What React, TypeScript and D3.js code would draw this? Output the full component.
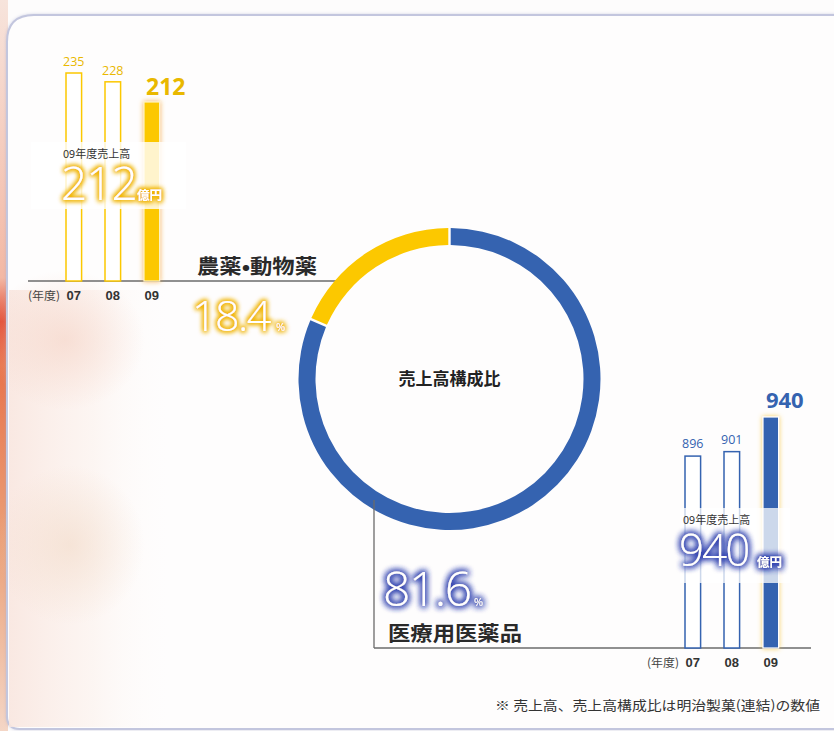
import React from "react";
import * as d3 from "d3";

const years = ["07", "08", "09"];
const agriValues = [235, 228, 212];
const pharmaValues = [896, 901, 940];
const shareLabels = ["医療用医薬品", "農薬•動物薬"];
const shareValues = [81.6, 18.4];
const footnote = "※ 売上高、売上高構成比は明治製菓(連結)の数値";

const BLUE = "#3563b0";
const YELLOW = "#fcc800";
const GOLD = "#e9b800";
const JP = "'Noto Sans CJK JP', 'Noto Sans', sans-serif";
const NUM = "'Open Sans', 'Noto Sans', sans-serif";
const BOLDNUM = "'Liberation Sans', Arial, sans-serif";

export default function App() {
  const W = 834, H = 731;

  // left chart scales
  const xL = d3.scaleBand<string>().domain(years).range([54.3, 171.3]).paddingInner(0.6).paddingOuter(0.3);
  const yL = d3.scaleLinear().domain([70, 235]).range([281, 73]);
  const baseL = yL(70);
  // right chart scales
  const xR = d3.scaleBand<string>().domain(years).range([673.3, 790.3]).paddingInner(0.6).paddingOuter(0.3);
  const yR = d3.scaleLinear().domain([680, 940]).range([648, 417]);
  const baseR = yR(680);

  const cx = 449.5, cy = 379, rOut = 151, rIn = 134;
  const pie = d3.pie<number>().sort(null).startAngle(0).endAngle(Math.PI * 2).padAngle(0.012);
  const arcs = pie(shareValues);
  const arc = d3.arc<d3.PieArcDatum<number>>().innerRadius(rIn).outerRadius(rOut);
  const donutColors = [BLUE, YELLOW];

  const fmt = (v: number) => v.toFixed(1);

  return (
    <svg width={W} height={H} style={{ position: "absolute", left: 0, top: 0, display: "block" }}>
      <defs>
        <filter id="glowY" x="-30%" y="-50%" width="160%" height="200%">
          <feMorphology in="SourceAlpha" operator="dilate" radius="1.2" result="d" />
          <feGaussianBlur in="d" stdDeviation="2.6" result="b" />
          <feFlood floodColor="#f0b400" result="c" />
          <feComposite in="c" in2="b" operator="in" result="g" />
          <feMerge>
            <feMergeNode in="g" />
            <feMergeNode in="g" />
            <feMergeNode in="SourceGraphic" />
          </feMerge>
        </filter>
        <filter id="glowB" x="-30%" y="-50%" width="160%" height="200%">
          <feMorphology in="SourceAlpha" operator="dilate" radius="1.4" result="d" />
          <feGaussianBlur in="d" stdDeviation="3" result="b" />
          <feFlood floodColor="#2e3fae" result="c" />
          <feComposite in="c" in2="b" operator="in" result="g" />
          <feMerge>
            <feMergeNode in="g" />
            <feMergeNode in="g" />
            <feMergeNode in="SourceGraphic" />
          </feMerge>
        </filter>
        <filter id="barGlowO" x="-100%" y="-10%" width="300%" height="120%">
          <feGaussianBlur in="SourceAlpha" stdDeviation="2.5" result="b" />
          <feFlood floodColor="#f39a1f" floodOpacity="0.8" result="c" />
          <feComposite in="c" in2="b" operator="in" result="g" />
          <feMerge>
            <feMergeNode in="g" />
            <feMergeNode in="SourceGraphic" />
          </feMerge>
        </filter>
        <filter id="barGlowY" x="-100%" y="-10%" width="300%" height="120%">
          <feGaussianBlur in="SourceAlpha" stdDeviation="2.5" result="b" />
          <feFlood floodColor="#f5c640" floodOpacity="0.9" result="c" />
          <feComposite in="c" in2="b" operator="in" result="g" />
          <feMerge>
            <feMergeNode in="g" />
            <feMergeNode in="SourceGraphic" />
          </feMerge>
        </filter>
        <linearGradient id="redStrip" x1="0" y1="0" x2="0" y2="1">
          <stop offset="0" stopColor="#f7e4dc" />
          <stop offset="0.38" stopColor="#f3b8a4" />
          <stop offset="0.44" stopColor="#e24a32" />
          <stop offset="0.5" stopColor="#e8744c" />
          <stop offset="0.75" stopColor="#eba27a" />
          <stop offset="1" stopColor="#f4d6c6" />
        </linearGradient>
        <linearGradient id="pinkFade" x1="0" y1="0" x2="1" y2="0">
          <stop offset="0" stopColor="#f9e6df" stopOpacity="0.9" />
          <stop offset="0.5" stopColor="#fbeee8" stopOpacity="0.5" />
          <stop offset="1" stopColor="#ffffff" stopOpacity="0" />
        </linearGradient>
        <radialGradient id="blob1">
          <stop offset="0" stopColor="#f5d2c4" stopOpacity="0.6" />
          <stop offset="1" stopColor="#f5d2c4" stopOpacity="0" />
        </radialGradient>
        <radialGradient id="blob2">
          <stop offset="0" stopColor="#f1d8c4" stopOpacity="0.55" />
          <stop offset="1" stopColor="#f1d8c4" stopOpacity="0" />
        </radialGradient>
        <filter id="frameShadow" x="-5%" y="-5%" width="110%" height="110%">
          <feGaussianBlur in="SourceAlpha" stdDeviation="1.5" result="b" />
          <feFlood floodColor="#9aa0c8" floodOpacity="0.45" result="c" />
          <feComposite in="c" in2="b" operator="in" result="g" />
          <feMerge>
            <feMergeNode in="g" />
            <feMergeNode in="SourceGraphic" />
          </feMerge>
        </filter>
      </defs>

      {/* background */}
      <rect x={0} y={0} width={W} height={H} fill="#fdfcfc" />
      <rect x={0} y={0} width={8} height={H} fill="url(#redStrip)" />
      <path d="M7,716 L7,42 Q7,15 34,15 L850,15 L850,729 L20,729 Q7,729 7,716 Z" fill="#fefdfd" stroke="#c3c6de" strokeWidth={2} filter="url(#frameShadow)" />
      <rect x={9} y={290} width={170} height={437} fill="url(#pinkFade)" />
      <ellipse cx={65} cy={340} rx={80} ry={70} fill="url(#blob1)" />
      <ellipse cx={70} cy={545} rx={75} ry={80} fill="url(#blob2)" />

      {/* ---- left bar chart (agri) ---- */}
      <line x1={28} x2={345} y1={baseL} y2={baseL} stroke="#6b6b6b" strokeWidth={1.3} />
      {agriValues.map((v, i) => {
        const x = xL(years[i])!;
        const w = xL.bandwidth();
        const last = i === years.length - 1;
        return (
          <g key={"al" + i}>
            <rect x={x} y={yL(v)} width={w} height={baseL - yL(v)}
              fill={last ? YELLOW : "#ffffff"} stroke={last ? "#fff3c0" : YELLOW} strokeWidth={last ? 1.2 : 1.5}
              filter={last ? "url(#barGlowO)" : undefined} />
            {last ? (
              <text x={x + w / 2 + 14} y={yL(v) - 7} textAnchor="middle" fontFamily={NUM} fontWeight="bold" fontSize={23} fill={GOLD}>{v}</text>
            ) : (
              <text x={x + w / 2} y={yL(v) - 7} textAnchor="middle" fontFamily={NUM} fontSize={12.5} fill={GOLD}>{v}</text>
            )}
            <text x={x + w / 2} y={300} textAnchor="middle" fontFamily={BOLDNUM} fontWeight="bold" fontSize={13} fill="#333">{years[i]}</text>
          </g>
        );
      })}
      <text x={28} y={300} fontFamily={JP} fontSize={11.5} fill="#444" textLength={32} lengthAdjust="spacingAndGlyphs">(年度)</text>

      {/* left label box */}
      <rect x={31} y={142} width={155} height={67} fill="#ffffff" opacity={0.8} />
      <text x={63} y={158} fontFamily={JP} fontSize={11} fill="#333">09年度売上高</text>
      <g filter="url(#glowY)">
        <text x={61} y={200} fontFamily={NUM} fontWeight={300} fontSize={46} fill="#ffffff" letterSpacing={-1}>{agriValues[2]}</text>
        <text x={137} y={200} fontFamily={JP} fontWeight="bold" fontSize={12.5} fill="#ffffff">億円</text>
      </g>

      {/* ---- donut ---- */}
      {arcs.map((a, i) => (
        <path key={"arc" + i} d={arc(a)!} transform={`translate(${cx},${cy})`} fill={donutColors[i]} />
      ))}
      <text x={cx} y={cy + 6} textAnchor="middle" fontFamily={JP} fontWeight="bold" fontSize={17} fill="#222">売上高構成比</text>

      {/* agri label */}
      <text x={197} y={274} fontFamily={JP} fontWeight="bold" fontSize={20} fill="#2a2a2a" textLength={120} lengthAdjust="spacingAndGlyphs">{shareLabels[1]}</text>
      <g filter="url(#glowY)">
        <text x={192} y={331} fontFamily={NUM} fontWeight={300} fontSize={43} fill="#ffffff" letterSpacing={-1.5}>{fmt(shareValues[1])}</text>
        <text x={276} y={331} fontFamily={NUM} fontSize={11} fill="#ffffff">%</text>
      </g>

      {/* pharma connector */}
      <line x1={374} x2={374} y1={500} y2={baseR} stroke="#6b6b6b" strokeWidth={1.3} />
      <line x1={374} x2={811} y1={baseR} y2={baseR} stroke="#6b6b6b" strokeWidth={1.3} />
      <g filter="url(#glowB)">
        <text x={383} y={606} fontFamily={NUM} fontWeight={300} fontSize={48} fill="#ffffff" letterSpacing={-1.5}>{fmt(shareValues[0])}</text>
        <text x={474} y={606} fontFamily={NUM} fontSize={11} fill="#ffffff">%</text>
      </g>
      <text x={388} y={641} fontFamily={JP} fontWeight="bold" fontSize={20} fill="#2a2a2a" textLength={134} lengthAdjust="spacingAndGlyphs">{shareLabels[0]}</text>

      {/* ---- right bar chart (pharma) ---- */}
      {pharmaValues.map((v, i) => {
        const x = xR(years[i])!;
        const w = xR.bandwidth();
        const last = i === years.length - 1;
        return (
          <g key={"pr" + i}>
            <rect x={x} y={yR(v)} width={w} height={baseR - yR(v)}
              fill={last ? BLUE : "#ffffff"} stroke={last ? "#ffffff" : BLUE} strokeWidth={last ? 1.2 : 1.5}
              filter={last ? "url(#barGlowY)" : undefined} />
            {last ? (
              <text x={x + w / 2 + 14} y={yR(v) - 9} textAnchor="middle" fontFamily={NUM} fontWeight="bold" fontSize={22} fill={BLUE}>{v}</text>
            ) : (
              <text x={x + w / 2} y={yR(v) - 8} textAnchor="middle" fontFamily={NUM} fontSize={12.5} fill={BLUE}>{v}</text>
            )}
            <text x={x + w / 2} y={667} textAnchor="middle" fontFamily={BOLDNUM} fontWeight="bold" fontSize={13} fill="#333">{years[i]}</text>
          </g>
        );
      })}
      <text x={647} y={667} fontFamily={JP} fontSize={11.5} fill="#444" textLength={32} lengthAdjust="spacingAndGlyphs">(年度)</text>

      {/* right label box */}
      <rect x={680} y={508} width={110} height={75} fill="#ffffff" opacity={0.75} />
      <text x={683} y={524} fontFamily={JP} fontSize={11} fill="#333">09年度売上高</text>
      <g filter="url(#glowB)">
        <text x={679} y={566} fontFamily={NUM} fontWeight={300} fontSize={44} fill="#ffffff" letterSpacing={-2}>{pharmaValues[2]}</text>
        <text x={757} y={567} fontFamily={JP} fontWeight="bold" fontSize={12.5} fill="#ffffff">億円</text>
      </g>

      {/* footnote */}
      <text x={495} y={710} fontFamily={JP} fontSize={13} fill="#333" textLength={325} lengthAdjust="spacingAndGlyphs">{footnote}</text>
    </svg>
  );
}
